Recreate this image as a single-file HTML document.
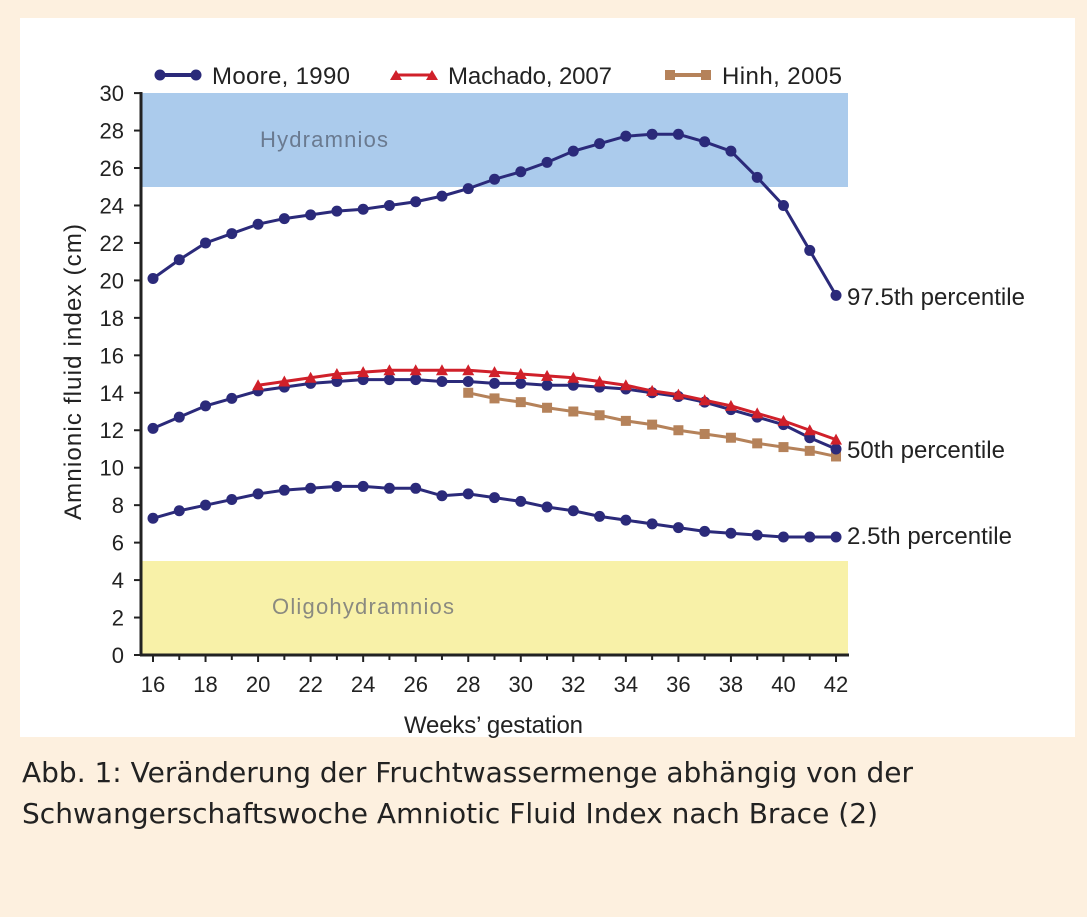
<!DOCTYPE html>
<html><head><meta charset="utf-8"><style>
body{margin:0;background:#fdf0df;width:1087px;height:912px;overflow:hidden;font-family:"Liberation Sans",sans-serif}
</style></head><body>
<svg width="1087" height="912" xmlns="http://www.w3.org/2000/svg" id="s">
<rect x="0" y="0" width="1087" height="912" fill="#fdf0df"/>
<rect x="20" y="18" width="1055" height="719" fill="#fff"/>
<rect x="141" y="93" width="707" height="94" fill="#abcbec"/>
<rect x="141" y="561" width="707" height="94" fill="#f8f1a8"/>
<text x="260" y="147" font-size="22" fill="#6a7a90" textLength="128">Hydramnios</text>
<text x="272" y="614" font-size="22" fill="#8a8a80" textLength="182">Oligohydramnios</text>
<line x1="141" y1="92" x2="141" y2="656" stroke="#222" stroke-width="3"/>
<line x1="140" y1="655" x2="849" y2="655" stroke="#222" stroke-width="3"/>
<g id="ax" font-size="22" fill="#222"></g>
<g id="ser"></g>
<g font-size="24" fill="#222">
<line x1="160" y1="75" x2="196" y2="75" stroke="#2b2a7a" stroke-width="4"/><circle cx="160" cy="75" r="5.5" fill="#2b2a7a"/><circle cx="196" cy="75" r="5.5" fill="#2b2a7a"/>
<text x="212" y="84" textLength="138">Moore, 1990</text>
<line x1="396" y1="75" x2="432" y2="75" stroke="#d0202a" stroke-width="3"/><polygon points="390,80 396,70 402,80" fill="#d0202a"/><polygon points="426,80 432,70 438,80" fill="#d0202a"/>
<text x="448" y="84" textLength="164">Machado, 2007</text>
<line x1="670" y1="75" x2="706" y2="75" stroke="#b5825a" stroke-width="4"/><rect x="665" y="70" width="10" height="10" fill="#b5825a"/><rect x="701" y="70" width="10" height="10" fill="#b5825a"/>
<text x="722" y="84" textLength="120">Hinh, 2005</text>
<text x="847" y="305" textLength="178">97.5th percentile</text>
<text x="847" y="458" textLength="158">50th percentile</text>
<text x="847" y="544" textLength="165">2.5th percentile</text>
<text x="404" y="733" textLength="179">Weeks’ gestation</text>
<text transform="translate(81,372) rotate(-90)" text-anchor="middle" textLength="296">Amnionic fluid index (cm)</text>
</g>
<g font-size="28" fill="#222" font-family="'DejaVu Sans',sans-serif">
<text x="22" y="782" textLength="891">Abb. 1: Veränderung der Fruchtwassermenge abhängig von der</text>
<text x="22" y="823" textLength="856">Schwangerschaftswoche Amniotic Fluid Index nach Brace (2)</text>
</g>
</svg>
<script>
const X=w=>153+(w-16)*26.27, Y=v=>655-v*18.73;
const ns="http://www.w3.org/2000/svg";
function el(p,t,a,txt){const e=document.createElementNS(ns,t);for(const k in a)e.setAttribute(k,a[k]);if(txt!=null)e.textContent=txt;p.appendChild(e);return e;}
const ax=document.getElementById('ax');
for(let v=0;v<=30;v+=2){el(ax,'line',{x1:134,x2:141,y1:Y(v),y2:Y(v),stroke:'#222','stroke-width':2});el(ax,'text',{x:124,y:Y(v)+8,'text-anchor':'end'},v);}
for(let w=16;w<=42;w+=2){el(ax,'line',{x1:X(w),x2:X(w),y1:655,y2:662,stroke:'#222','stroke-width':2});el(ax,'text',{x:X(w),y:692,'text-anchor':'middle'},w);}
for(let w=17;w<=41;w+=2)el(ax,'line',{x1:X(w),x2:X(w),y1:655,y2:660,stroke:'#222','stroke-width':2});
const s=document.getElementById('ser');
function series(start,data,col,mk,wid){const pts=data.map((v,i)=>[X(start+i),Y(v)]);
el(s,'polyline',{points:pts.map(p=>p.join(',')).join(' '),fill:'none',stroke:col,'stroke-width':wid});
pts.forEach(([x,y])=>{if(mk=='c')el(s,'circle',{cx:x,cy:y,r:5.5,fill:col});else if(mk=='t')el(s,'polygon',{points:`${x-6},${y+5} ${x},${y-6} ${x+6},${y+5}`,fill:col});else el(s,'rect',{x:x-5,y:y-5,width:10,height:10,fill:col});});}
series(28,[14.0,13.7,13.5,13.2,13.0,12.8,12.5,12.3,12.0,11.8,11.6,11.3,11.1,10.9,10.6],'#b5825a','s',3);
series(16,[12.1,12.7,13.3,13.7,14.1,14.3,14.5,14.6,14.7,14.7,14.7,14.6,14.6,14.5,14.5,14.4,14.4,14.3,14.2,14.0,13.8,13.5,13.1,12.7,12.3,11.6,11.0],'#2b2a7a','c',3);
series(20,[14.4,14.6,14.8,15.0,15.1,15.2,15.2,15.2,15.2,15.1,15.0,14.9,14.8,14.6,14.4,14.1,13.9,13.6,13.3,12.9,12.5,12.0,11.5],'#d0202a','t',3);
series(16,[20.1,21.1,22.0,22.5,23.0,23.3,23.5,23.7,23.8,24.0,24.2,24.5,24.9,25.4,25.8,26.3,26.9,27.3,27.7,27.8,27.8,27.4,26.9,25.5,24.0,21.6,19.2],'#2b2a7a','c',3);
series(16,[7.3,7.7,8.0,8.3,8.6,8.8,8.9,9.0,9.0,8.9,8.9,8.5,8.6,8.4,8.2,7.9,7.7,7.4,7.2,7.0,6.8,6.6,6.5,6.4,6.3,6.3,6.3],'#2b2a7a','c',3);
</script>
</body></html>
